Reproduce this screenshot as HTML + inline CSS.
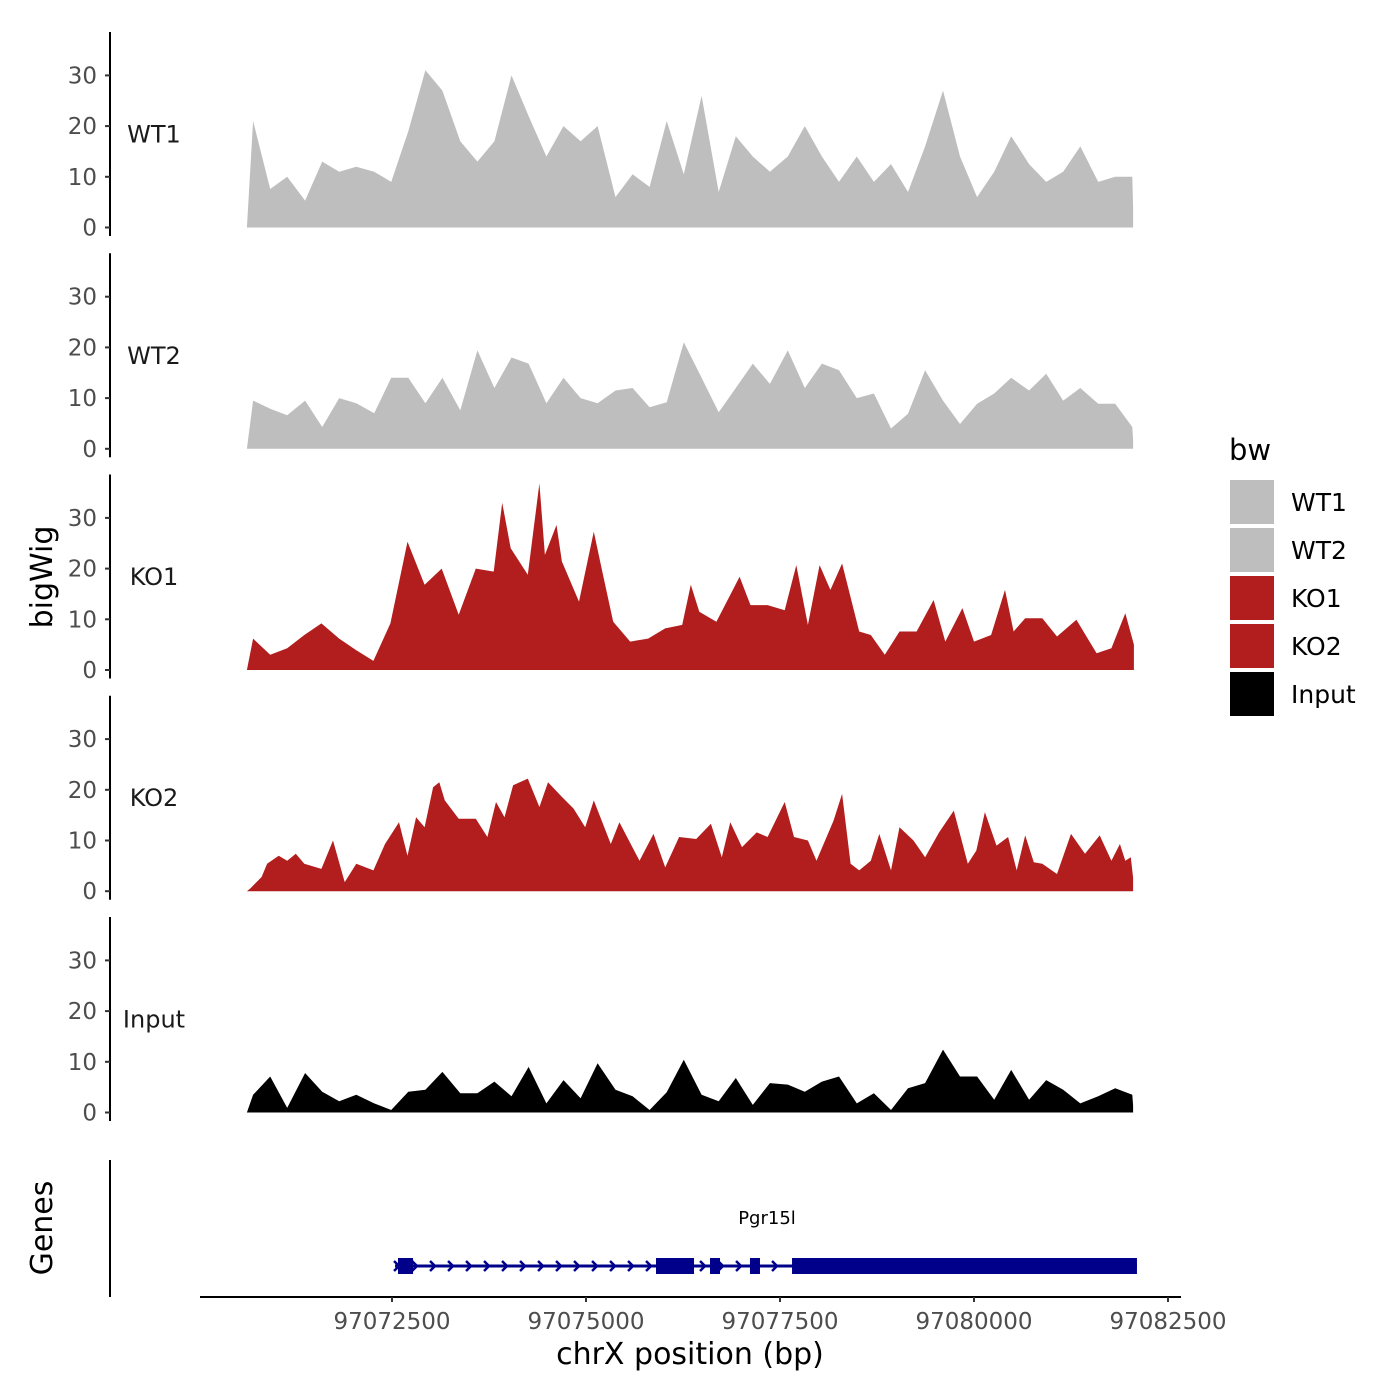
<!DOCTYPE html>
<html><head><meta charset="utf-8"><style>
html,body{margin:0;padding:0;background:#fff;}
svg{display:block;font-family:"DejaVu Sans","Liberation Sans",sans-serif;}
</style></head><body>
<svg id="chart" width="1400" height="1400" viewBox="0 0 1400 1400" xmlns="http://www.w3.org/2000/svg">
<g id="panels"></g>
<g id="genes"></g>
<g id="xaxis"></g>
<g id="legend"></g>
<text x="0" y="0" transform="translate(52,577) rotate(-90)" text-anchor="middle" font-size="30" fill="#000">bigWig</text>
<text x="0" y="0" transform="translate(52,1228) rotate(-90)" text-anchor="middle" font-size="30" fill="#000">Genes</text>
<text x="690" y="1364" text-anchor="middle" font-size="30" fill="#000">chrX position (bp)</text>
</svg>
<script>
const trackStart = 97070630;
const trackEnd = 97082050;
const gridPos = [97070710,97070930,97071150,97071380,97071600,97071820,97072040,97072270,97072490,97072710,97072930,97073150,97073380,97073600,97073820,97074040,97074260,97074490,97074710,97074930,97075150,97075380,97075600,97075820,97076040,97076260,97076490,97076710,97076930,97077150,97077370,97077600,97077820,97078040,97078260,97078490,97078710,97078930,97079150,97079370,97079600,97079820,97080040,97080260,97080480,97080710,97080930,97081150,97081370,97081600,97081820,97082040];
const wt1Values = [21,7.6,10,5.3,13,11,12,11,9,19,31,27,17,13,17,30,22,14,20,17,20,6,10.5,8,21,10.5,26,7,18,14,11,14,20,14,9,14,9,12.5,7,16,27,14,6,11,18,12.5,9,11,16,9,10,10];
const wt2Values = [9.5,7.9,6.6,9.5,4.3,10,9,7,14,14,9,14,7.6,19.4,12,18,16.8,9,14,10,9,11.5,12,8.2,9.2,21,14,7.2,12,16.8,12.8,19.4,12,16.8,15.5,10,10.9,4,6.9,15.5,9.5,4.9,8.9,10.9,14,11.5,14.8,9.5,12,8.9,8.9,4.3];
const inputValues = [3.5,7.1,0.9,7.8,4.1,2.2,3.5,1.8,0.5,4.1,4.5,8,3.8,3.8,6.1,3.2,9,1.8,6.4,2.8,9.7,4.5,3.2,0.5,4,10.4,3.5,2.2,6.8,1.5,5.8,5.5,4.1,6.1,7.1,1.8,3.8,0.5,4.8,5.8,12.4,7.1,7.1,2.5,8.4,2.5,6.4,4.5,1.8,3.2,4.8,3.5];
const ko1Pos = [97070710,97070930,97071150,97071370,97071590,97071820,97072040,97072260,97072480,97072700,97072920,97073140,97073360,97073580,97073810,97073920,97074030,97074250,97074400,97074470,97074620,97074690,97074910,97075100,97075210,97075350,97075570,97075800,97076020,97076240,97076350,97076460,97076680,97076980,97077120,97077340,97077560,97077710,97077860,97078010,97078150,97078300,97078520,97078670,97078850,97079040,97079260,97079480,97079630,97079850,97080000,97080220,97080400,97080510,97080660,97080880,97081070,97081320,97081580,97081770,97081950,97082060];
const ko1Values = [6.2,3,4.3,6.9,9.2,6.2,3.9,1.8,9.2,25.3,16.8,20,10.9,20,19.4,33,24,18.8,36.8,22.7,28.6,21.4,13.5,27.3,19.4,9.5,5.6,6.2,8.2,8.9,16.8,11.5,9.5,18.4,12.8,12.8,11.8,20.7,8.9,20.7,15.8,21,7.6,6.9,3,7.6,7.6,13.8,5.6,12.2,5.6,6.9,15.8,7.6,10.2,10.2,6.6,9.9,3.3,4.3,11.2,5];
const ko2Pos = [97070670,97070820,97070890,97071040,97071150,97071260,97071370,97071590,97071740,97071890,97072040,97072260,97072410,97072590,97072700,97072810,97072920,97073030,97073110,97073180,97073360,97073580,97073730,97073840,97073950,97074060,97074250,97074400,97074510,97074690,97074840,97074990,97075100,97075320,97075430,97075690,97075870,97076020,97076200,97076420,97076610,97076750,97076860,97077010,97077200,97077340,97077560,97077680,97077860,97077970,97078190,97078300,97078410,97078520,97078670,97078780,97078930,97079040,97079220,97079370,97079550,97079740,97079920,97080030,97080140,97080290,97080440,97080550,97080660,97080770,97080880,97081070,97081250,97081430,97081620,97081770,97081880,97081950,97082020];
const ko2Values = [0.5,2.8,5.4,7,6,7.4,5.4,4.4,10,1.8,5.4,4.1,9.3,13.6,7,14.6,12.6,20.5,21.5,17.9,14.3,14.3,10.7,17.6,14.6,20.9,22.2,16.6,21.5,18.6,16.3,12.6,17.9,9.3,13.6,6,11.3,4.7,10.7,10.3,13.3,6.7,13.6,8.7,11.6,10.7,17.6,10.7,10,6,13.9,19.2,5.4,4.1,6,11.3,4.1,12.6,10,6.7,11.6,15.9,5.4,8,15.6,9,10.7,4.1,11,5.7,5.4,3.4,11.3,7.4,11,6,9.3,6,6.7];
const trackNames = ["WT1","WT2","KO1","KO2","Input"];
const yTicks = [0,10,20,30];
const xTicks = [97072500,97075000,97077500,97080000,97082500];
const geneName = "Pgr15l";
const geneStart = 97072539, geneEnd = 97082100;
const exonStarts = [97072577,97075902,97076598,97077113,97077655];
const exonEnds = [97072771,97076392,97076727,97077242,97082100];

const NS="http://www.w3.org/2000/svg";
function mk(tag,attrs,parent){const e=document.createElementNS(NS,tag);for(const k in attrs)e.setAttribute(k,attrs[k]);parent.appendChild(e);return e;}
const xScale = bp => 392 + (bp-97072500)*0.0776;
const zeros = [227.5,448.8,670,891.2,1112.5];
const yUnit = 5.07;
const colors = ["#bebebe","#bebebe","#b21e1e","#b21e1e","#000000"];
const posList = [gridPos,gridPos,ko1Pos,ko2Pos,gridPos];
const valList = [wt1Values,wt2Values,ko1Values,ko2Values,inputValues];
const panels=document.getElementById('panels');
for(let p=0;p<5;p++){
  const g=mk('g',{},panels);
  
  
  const z=zeros[p];
  const pos=posList[p], vals=valList[p];
  let d='M'+xScale(trackStart).toFixed(1)+','+z;
  for(let i=0;i<vals.length;i++) d+=' L'+xScale(pos[i]).toFixed(1)+','+(z-vals[i]*yUnit).toFixed(1);
  const endBp = Math.max(pos[pos.length-1], trackEnd);
  d+=' L'+xScale(endBp).toFixed(1)+','+(z-vals[vals.length-1]*yUnit*0.4).toFixed(1)+' L'+xScale(endBp).toFixed(1)+','+z+' Z';
  const area=mk('path',{d:d,fill:colors[p],stroke:'none'},g);
  
  
  const ax=mk('line',{x1:110,x2:110,y1:z-195.5,y2:z+8.5,stroke:'#000','stroke-width':2},g);
  
  
  for(const t of yTicks){
    const y=z-t*yUnit;
    const tk=mk('line',{x1:105,x2:110,y1:y,y2:y,stroke:'#333','stroke-width':2},g);
    
    
    const tl=mk('text',{x:97,y:y+8,'text-anchor':'end','font-size':23,fill:'#4d4d4d'},g);
    tl.textContent=t;
    
    
  }
  const lab=mk('text',{x:154,y:z-85,'text-anchor':'middle','font-size':24,fill:'#1a1a1a'},g);
  lab.textContent=trackNames[p];
  
  
}
// gene track
const gg=document.getElementById('genes');
const ga=mk('line',{x1:110,x2:110,y1:1160,y2:1297,stroke:'#000','stroke-width':2},gg);


const gy=1266;
const intron=mk('line',{x1:xScale(geneStart),x2:xScale(geneEnd),y1:gy,y2:gy,stroke:'#00008b','stroke-width':3},gg);


for(let x=xScale(geneStart)+2;x<xScale(exonStarts[4]);x+=18){
  const a=mk('path',{d:'M'+(x-3)+','+(gy-5)+' L'+(x+2)+','+gy+' L'+(x-3)+','+(gy+5),fill:'none',stroke:'#00008b','stroke-width':2.5},gg);
  
  
}
for(let i=0;i<exonStarts.length;i++){
  const x1=xScale(exonStarts[i]),x2=xScale(exonEnds[i]);
  const r=mk('rect',{x:x1,y:gy-8,width:x2-x1,height:16,fill:'#00008b'},gg);
  
  
}
const gl=mk('text',{x:767,y:1224,'text-anchor':'middle','font-size':18,fill:'#000'},gg);
gl.textContent=geneName;


// x axis
const xa=document.getElementById('xaxis');
const xl=mk('line',{x1:200,x2:1181,y1:1297,y2:1297,stroke:'#000','stroke-width':2},xa);


for(const t of xTicks){
  const x=xScale(t);
  const tk=mk('line',{x1:x,x2:x,y1:1297,y2:1302,stroke:'#333','stroke-width':2},xa);
  
  
  const tl=mk('text',{x:x,y:1329,'text-anchor':'middle','font-size':23,fill:'#4d4d4d'},xa);
  tl.textContent=t;
  
  
}
// legend
const lg=document.getElementById('legend');
const lt=mk('text',{x:1229,y:460,'font-size':29,fill:'#000'},lg);
lt.textContent='bw';


for(let i=0;i<5;i++){
  const y=480+i*48;
  const k=mk('rect',{x:1230,y:y,width:44,height:44,fill:colors[i]},lg);
  
  
  const t=mk('text',{x:1291,y:y+31,'font-size':25,fill:'#000'},lg);
  t.textContent=trackNames[i];
  
  
}
</script>
</body></html>
